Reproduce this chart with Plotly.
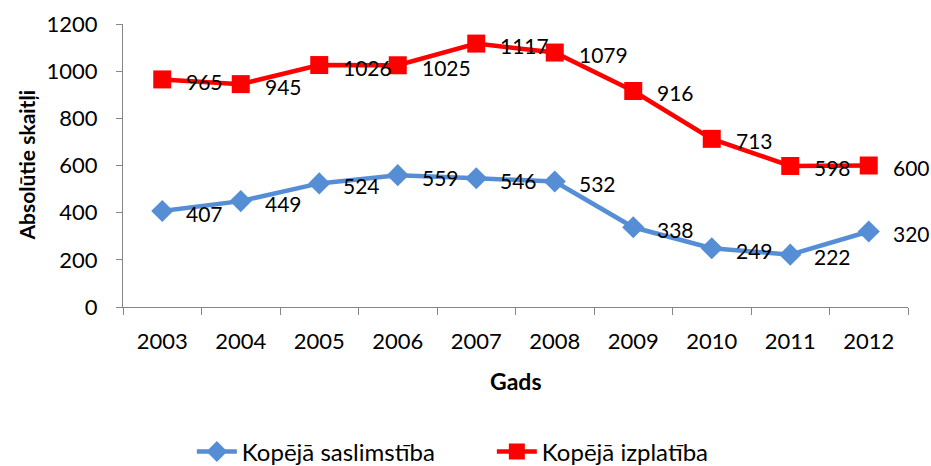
import plotly.graph_objects as go

years = ["2003", "2004", "2005", "2006", "2007", "2008", "2009", "2010", "2011", "2012"]
saslimstiba = [407, 449, 524, 559, 546, 532, 338, 249, 222, 320]
izplatiba = [965, 945, 1026, 1025, 1117, 1079, 916, 713, 598, 600]

series_names = ["Kopējā saslimstība", "Kopējā izplatība"]
x_title = "Gads"
y_title = "Absolūtie skaitļi"
blue = "#558ED5"
red = "#FF0000"
FONT = "Lato"
FS = 22

fig = go.Figure()
fig.add_trace(go.Scatter(
    x=years, y=saslimstiba, name=series_names[0], mode="lines+markers",
    line=dict(color=blue, width=4.5),
    marker=dict(symbol="diamond", size=17, color=blue),
))
fig.add_trace(go.Scatter(
    x=years, y=izplatiba, name=series_names[1], mode="lines+markers",
    line=dict(color=red, width=4.5),
    marker=dict(symbol="square", size=18, color=red),
))

annotations = []
for vals in (saslimstiba, izplatiba):
    for i, v in enumerate(vals):
        annotations.append(dict(
            x=i, y=v, text=str(v), showarrow=False, xanchor="left", yanchor="middle",
            xshift=22, yshift=-2, font=dict(family=FONT, size=21, color="black"),
        ))

# axis titles placed at fixed paper positions
annotations.append(dict(
    xref="paper", yref="paper", x=-0.1223, y=0.50, text="<b>" + y_title + "</b>",
    textangle=-90, showarrow=False, xanchor="center", yanchor="middle",
    font=dict(family=FONT, size=21, color="black"),
))
annotations.append(dict(
    xref="paper", yref="paper", x=0.5006, y=-0.2615, text="<b>" + x_title + "</b>",
    showarrow=False, xanchor="center", yanchor="middle",
    font=dict(family=FONT, size=23, color="black"),
))

fig.update_layout(
    width=931, height=466,
    margin=dict(l=123, r=23, t=24, b=159, autoexpand=False),
    plot_bgcolor="white", paper_bgcolor="white",
    font=dict(family=FONT, size=FS, color="black"),
    showlegend=True,
    legend=dict(orientation="h", x=0.0877, xanchor="left", y=-0.512, yanchor="middle",
                font=dict(family=FONT, size=24), itemwidth=40,
                entrywidth=245, entrywidthmode="pixels"),
    annotations=annotations,
    xaxis=dict(
        type="category", categoryorder="array", categoryarray=years,
        range=[-0.5, len(years) - 0.5], autorange=False, automargin=False,
        showgrid=False, showline=True, linecolor="#868686", linewidth=1,
        ticks="outside", tickson="boundaries", ticklen=7, tickcolor="#868686",
        tickfont=dict(family=FONT, size=FS), tickangle=0, ticklabelstandoff=15,
    ),
    yaxis=dict(
        range=[0, 1200], dtick=200, showgrid=False, showline=True, linecolor="#868686",
        linewidth=1, ticks="outside", ticklen=6, tickcolor="#868686", automargin=False,
        tickfont=dict(family=FONT, size=FS), zeroline=False, ticklabelstandoff=14,
    ),
)

fig.write_html("out.html", config={"displayModeBar": False},
               post_script="document.body.style.margin='0';")
